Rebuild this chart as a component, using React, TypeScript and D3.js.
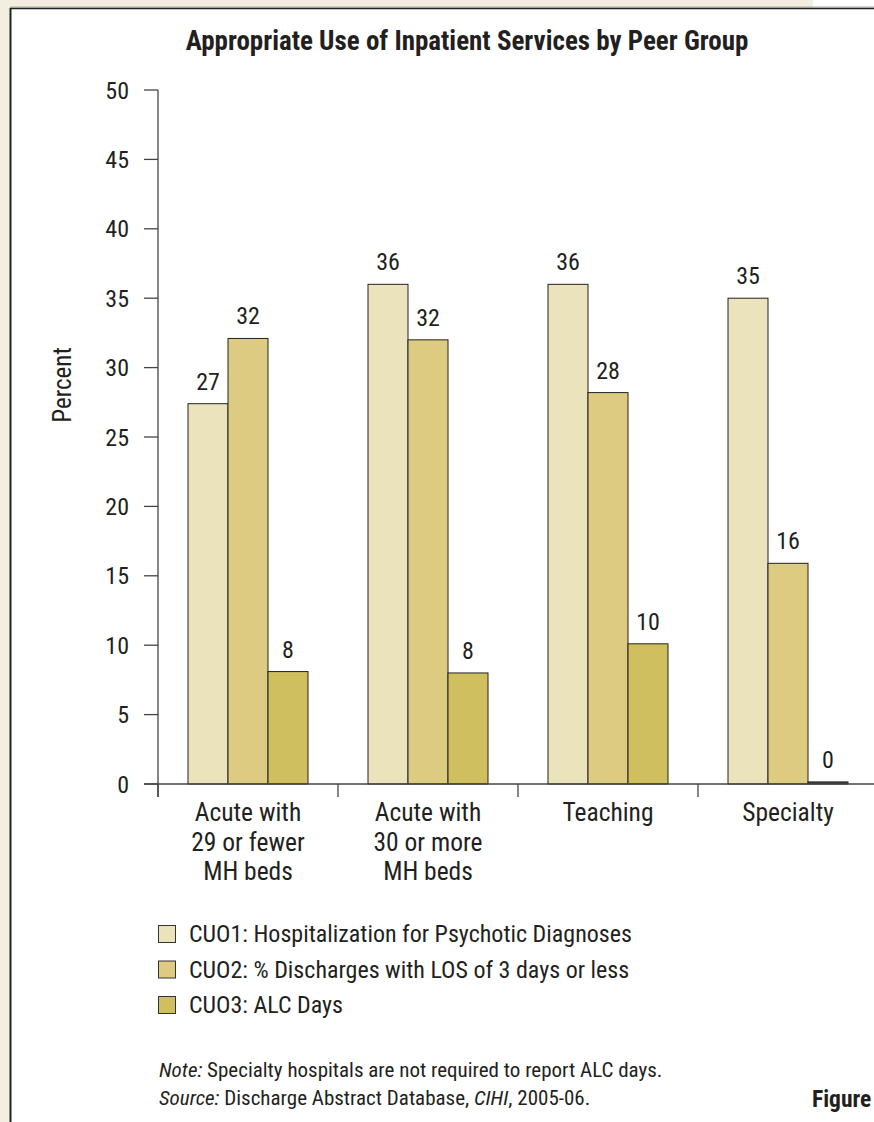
import React from "react";
import * as d3 from "d3";

const categories: string[][] = [
  ["Acute with", "29 or fewer", "MH beds"],
  ["Acute with", "30 or more", "MH beds"],
  ["Teaching"],
  ["Specialty"],
];
const seriesNames = [
  "CUO1: Hospitalization for Psychotic Diagnoses",
  "CUO2: % Discharges with LOS of 3 days or less",
  "CUO3: ALC Days",
];
const cuo1 = [27.4, 36.0, 36.0, 35.0];
const cuo2 = [32.1, 32.0, 28.2, 15.9];
const cuo3 = [8.1, 8.0, 10.1, 0.15];
const labels1 = ["27", "36", "36", "35"];
const labels2 = ["32", "32", "28", "16"];
const labels3 = ["8", "8", "10", "0"];
const yTicks = [0, 5, 10, 15, 20, 25, 30, 35, 40, 45, 50];

const colors = ["#ebe3bb", "#dccb80", "#cfbf5f"];
const FONT = "'Liberation Sans Narrow', 'Roboto Condensed', 'DejaVu Sans Condensed', 'Liberation Sans', sans-serif";
const TXT = "#231f20";
const AX = "#444";

export default function App() {
  const W = 874;
  const H = 1122;
  const x0 = 158;
  const bandW = 180;
  const x = d3
    .scaleBand<number>()
    .domain(d3.range(categories.length))
    .range([x0, x0 + bandW * categories.length])
    .paddingInner(0)
    .paddingOuter(0);
  const inner = d3
    .scaleBand<number>()
    .domain([0, 1, 2])
    .range([30, bandW - 30]);
  const y = d3.scaleLinear().domain([0, 50]).range([784, 90]);
  const series = [cuo1, cuo2, cuo3];
  const labs = [labels1, labels2, labels3];

  return (
    <div style={{ position: "absolute", left: 0, top: 0, width: W, height: H, overflow: "hidden" }}>
      <svg width={W} height={H} style={{ display: "block", fontFamily: FONT }}>
        <rect x={0} y={0} width={W} height={H} fill="#f2efe1" />
        <rect x={813} y={0} width={W - 813} height={8} fill="#ffffff" />
        <rect x={10} y={8} width={W} height={H} fill="#ffffff" />
        <line x1={10} y1={7} x2={W} y2={7} stroke="#aaa" strokeWidth={1} />
        <line x1={10} y1={8.5} x2={W} y2={8.5} stroke="#222" strokeWidth={1.5} />
        <line x1={10.5} y1={8} x2={10.5} y2={H} stroke="#222" strokeWidth={2} />

        <text x={467} y={50} textAnchor="middle" fontSize={27} fontWeight="bold" fill={TXT}>
          Appropriate Use of Inpatient Services by Peer Group
        </text>

        {/* y axis */}
        <line x1={x0} y1={y(50)} x2={x0} y2={y(0) + 13} stroke={AX} strokeWidth={1.3} />
        {yTicks.map((t) => (
          <g key={t}>
            <line x1={x0 - 14} y1={y(t)} x2={x0} y2={y(t)} stroke={AX} strokeWidth={1.3} />
            <text x={129} y={y(t) + 8.5} textAnchor="end" fontSize={24} fill={TXT}>
              {t}
            </text>
          </g>
        ))}
        <text
          transform={`translate(71, 385) rotate(-90)`}
          textAnchor="middle"
          fontSize={25}
          fill={TXT}
        >
          Percent
        </text>

        {/* bars */}
        {categories.map((_, i) => (
          <g key={i}>
            {series.map((s, j) => {
              const bx = (x(i) as number) + (inner(j) as number);
              const bw = inner.bandwidth();
              return (
                <g key={j}>
                  <rect
                    x={bx}
                    y={y(s[i])}
                    width={bw}
                    height={y(0) - y(s[i])}
                    fill={s[i] < 0.5 ? "#444" : colors[j]}
                    stroke="#222"
                    strokeWidth={1}
                  />
                  <text x={bx + bw / 2} y={y(s[i]) - 14} textAnchor="middle" fontSize={24} fill={TXT}>
                    {labs[j][i]}
                  </text>
                </g>
              );
            })}
          </g>
        ))}

        {/* x axis */}
        <line x1={x0 - 14} y1={y(0)} x2={W} y2={y(0)} stroke={AX} strokeWidth={1.3} />
        {d3.range(categories.length).map((i) => (
          <line key={i} x1={x(i) as number} y1={y(0)} x2={x(i) as number} y2={y(0) + 13} stroke={AX} strokeWidth={1.3} />
        ))}
        {categories.map((lines, i) => (
          <text key={i} textAnchor="middle" fontSize={25.5} fill={TXT}>
            {lines.map((l, k) => (
              <tspan key={k} x={(x(i) as number) + bandW / 2} y={821 + k * 29.5}>
                {l}
              </tspan>
            ))}
          </text>
        ))}

        {/* legend */}
        {seriesNames.map((n, j) => (
          <g key={j}>
            <rect x={158.5} y={925.5 + j * 35.5} width={17} height={17} fill={colors[j]} stroke="#333" strokeWidth={1} />
            <text x={189} y={942 + j * 35.5} fontSize={24} fill={TXT}>
              {n}
            </text>
          </g>
        ))}

        {/* notes */}
        <text x={159} y={1077} fontSize={21} fill={TXT}>
          <tspan fontStyle="italic">Note:</tspan>
          <tspan> Specialty hospitals are not required to report ALC days.</tspan>
        </text>
        <text x={159} y={1105} fontSize={21} fill={TXT}>
          <tspan fontStyle="italic">Source:</tspan>
          <tspan> Discharge Abstract Database, </tspan>
          <tspan fontStyle="italic">CIHI</tspan>
          <tspan>, 2005-06.</tspan>
        </text>
        <text x={812} y={1107} fontSize={23.5} fontWeight="bold" fill={TXT}>
          Figure
        </text>
      </svg>
    </div>
  );
}
